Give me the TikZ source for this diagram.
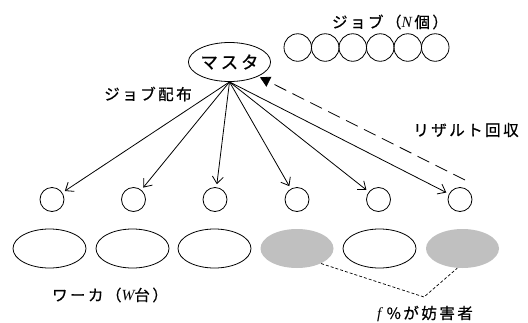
\documentclass[tikz,border=0pt]{standalone}
\usepackage{fontspec}
\newfontfamily\jp[LetterSpace=16,FakeBold=0.6]{Noto Sans CJK JP}
\newfontfamily\ser{Liberation Serif}
\usetikzlibrary{arrows.meta,shapes.geometric}
\definecolor{shade}{HTML}{C0C0C0}
\begin{document}
\begin{tikzpicture}[x=1pt,y=-1pt,line width=0.8pt,
  lbl/.style={font=\jp\fontsize{15.5}{15.5}\selectfont, inner sep=0},
  wc/.style={circle,draw,minimum size=24pt,inner sep=0},
  jc/.style={circle,draw,minimum size=27.5pt,inner sep=0},
  we/.style={ellipse,draw,minimum width=73pt,minimum height=39pt,inner sep=0},
  ge/.style={ellipse,fill=shade,minimum width=73pt,minimum height=39pt,inner sep=0},
  dist/.style={-{Straight Barb[length=7pt,width=11pt]}, shorten >=3pt},
  ret/.style={-{Triangle[length=10pt,width=11pt]}, dash pattern=on 13pt off 7pt, shorten >=2pt},
  dot/.style={line width=0.7pt, dash pattern=on 3pt off 2pt}
]
\useasboundingbox (0,0) rectangle (528,322);
% master
\node[ellipse,draw,minimum width=73pt,minimum height=39pt,inner sep=0,
  font=\jp\fontsize{17.5}{17.5}\selectfont] (m) at (229.5,62) {マスタ};
% jobs
\foreach \i/\x in {1/297.75,2/325.25,3/352.75,4/380.25,5/407.75,6/435.25}
  \node[jc] (j\i) at (\x,47.5) {};
\node[lbl] (jl) at (390,22) {ジョブ（{\ser\itshape N}\,個）};
% workers
\foreach \i/\x in {1/52,2/133.5,3/215,4/297,5/378.5,6/460}
  \node[wc] (w\i) at (\x,199.5) {};
\node[we] (e1) at (49.5,248.5) {};
\node[we] (e2) at (132.5,248.5) {};
\node[we] (e3) at (214.5,248.5) {};
\node[ge] (e4) at (297,248.5) {};
\node[we] (e5) at (379.5,248.5) {};
\node[ge] (e6) at (462.5,248.5) {};
% distribution arrows
\foreach \i in {1,...,6}
  \draw[dist] (m.south) -- (w\i);
\node[lbl] (dl) at (148,94) {ジョブ配布};
% result return
\coordinate (rs) at (465,180);
\draw[ret] (rs) -- (m);
\node[lbl] (rl) at (466,130) {リザルト回収};
% labels
\node[lbl] (wl) at (110,295) {ワーカ（{\ser\itshape W}台）};
\coordinate (jn) at (424,297);
\draw[dot] (e4.-32) -- (jn) -- (e6.-105);
\node[lbl] (fl) at (425,314) {{\ser\itshape f}\,\,\%が妨害者};
\end{tikzpicture}
\end{document}
